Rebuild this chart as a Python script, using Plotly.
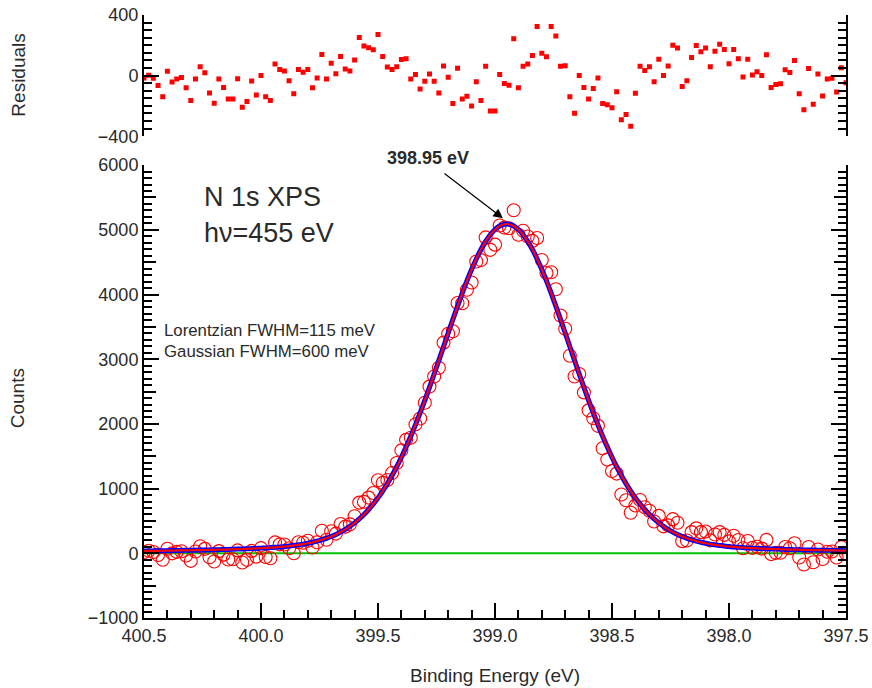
import numpy as np
import plotly.graph_objects as go

# Binding energy grid (eV): 151 points, 400.50 -> 397.50 in 0.02 eV steps
E_START, E_STEP, N_PTS = 400.5, 0.02, 151
energy = [round(E_START - E_STEP * i, 2) for i in range(N_PTS)]

counts = [20, 39, 20, -26, -99, 70, -1, 22, 32, -35, -117, 27, 108, 69, -62, -127, 34, -21, -95, -92,
          45, -142, -101, 37, -52, 80, -56, -76, 169, 138, 136, 78, 2, 171, 164, 195, 89, 172, 348, 210,
          341, 304, 454, 412, 448, 574, 784, 795, 861, 933, 1129, 1088, 1133, 1242, 1396, 1591, 1754, 1787, 1993, 2084,
          2327, 2577, 2733, 2867, 3256, 3395, 3432, 3870, 3865, 4073, 4187, 4510, 4532, 4883, 4691, 4771, 5066, 5035, 5024, 5302,
          4924, 4986, 4898, 4829, 4874, 4535, 4334, 4344, 4082, 3677, 3471, 3054, 2733, 2771, 2487, 2210, 2087, 1970, 1625, 1449,
          1272, 1232, 910, 821, 627, 740, 823, 711, 658, 492, 579, 417, 432, 528, 473, 188, 198, 328, 386, 327,
          337, 200, 291, 328, 285, 184, 271, 205, 79, 191, 84, 101, 73, 207, -12, 7, 9, 98, 78, 155,
          -64, -172, 98, -139, 60, -88, 24, 27, -64, 94, -6]

fit = [36, 37, 38, 39, 40, 41, 42, 44, 45, 46, 47, 49, 50, 51, 53, 55, 56, 58, 60, 63,
       65, 67, 70, 73, 76, 80, 83, 88, 93, 98, 105, 112, 121, 131, 142, 155, 170, 188, 209, 232,
       260, 291, 328, 369, 417, 471, 532, 600, 677, 762, 857, 962, 1077, 1202, 1338, 1485, 1642, 1809, 1986, 2172,
       2365, 2566, 2771, 2982, 3193, 3406, 3616, 3821, 4020, 4210, 4387, 4550, 4696, 4822, 4925, 5005, 5059, 5087, 5087, 5059,
       5005, 4925, 4822, 4696, 4550, 4387, 4210, 4020, 3821, 3616, 3406, 3193, 2982, 2771, 2566, 2365, 2172, 1986, 1809, 1642,
       1485, 1338, 1202, 1077, 962, 857, 762, 677, 600, 532, 471, 417, 369, 328, 291, 260, 232, 209, 188, 170,
       155, 142, 131, 121, 112, 105, 98, 93, 88, 83, 80, 76, 73, 70, 67, 65, 63, 60, 58, 56,
       55, 53, 51, 50, 49, 47, 46, 45, 44, 42, 41]

residuals = [-16, 2, -18, -65, -139, 29, -43, -22, -13, -81, -164, -22, 58, 18, -115, -182, -22, -79, -155, -155,
             -20, -209, -171, -36, -128, 0, -139, -164, 76, 40, 31, -34, -119, 40, 22, 40, -81, -16, 139, -22,
             81, 13, 126, 43, 31, 103, 252, 195, 184, 171, 272, 126, 56, 40, 58, 106, 112, -22, 7, -88,
             -38, 11, -38, -115, 63, -11, -184, 49, -155, -137, -200, -40, -164, 61, -234, -234, 7, -52, -63, 243,
             -81, 61, 76, 133, 324, 148, 124, 324, 261, 61, 65, -139, -249, 0, -79, -155, -85, -16, -184, -193,
             -213, -106, -292, -256, -335, -117, 61, 34, 58, -40, 108, 0, 63, 200, 182, -72, -34, 119, 198, 157,
             182, 58, 160, 207, 173, 79, 173, 112, -9, 108, 4, 25, 0, 137, -79, -58, -54, 38, 20, 99,
             -119, -225, 47, -189, 11, -135, -22, -18, -108, 52, -47]

baseline = [0, 0]
baseline_x = [400.5, 397.5]

x_ticks = [400.5, 400.0, 399.5, 399.0, 398.5, 398.0, 397.5]
x_ticktext = ["400.5", "400.0", "399.5", "399.0", "398.5", "398.0", "397.5"]
y_ticks = [-1000, 0, 1000, 2000, 3000, 4000, 5000, 6000]
res_ticks = [-400, 0, 400]

peak_label = "398.95 eV"
peak_pos = (398.966, 5178)

FONT = "Liberation Sans, Arial, Helvetica, sans-serif"
TXT = "#2a2a2a"

fig = go.Figure()

# residuals (top panel)
fig.add_trace(go.Scatter(x=energy, y=residuals, mode="markers", xaxis="x2", yaxis="y2",
                         marker=dict(symbol="square", size=5, color="#ff0000"), hoverinfo="skip"))
# baseline
fig.add_trace(go.Scatter(x=baseline_x, y=baseline, mode="lines",
                         line=dict(color="#00c000", width=2), hoverinfo="skip"))
# data
fig.add_trace(go.Scatter(x=energy, y=counts, mode="markers",
                         marker=dict(symbol="circle-open", size=13, color="#ff0000",
                                     line=dict(width=1.1, color="#ff0000")), hoverinfo="skip"))
# fit (blue envelope with red core)
fig.add_trace(go.Scatter(x=energy, y=fit, mode="lines", line=dict(color="#0000ff", width=5, shape="spline"),
                         hoverinfo="skip"))
fig.add_trace(go.Scatter(x=energy, y=fit, mode="lines", line=dict(color="#ff0000", width=2.2, shape="spline"),
                         hoverinfo="skip"))
# medium ticks on counts axis (every 500)
fig.add_trace(go.Scatter(x=[None], y=[None], xaxis="x", yaxis="y3", showlegend=False, hoverinfo="skip"))

axis_common = dict(showgrid=False, zeroline=False, showline=True, linecolor="black", linewidth=2,
                   ticks="inside", tickcolor="black", tickwidth=2, automargin=False,
                   tickfont=dict(family=FONT, size=18, color=TXT))

fig.update_layout(
    width=872, height=688,
    margin=dict(l=144, r=26, t=15, b=70),
    plot_bgcolor="white", paper_bgcolor="white",
    showlegend=False,
    xaxis=dict(**axis_common, range=[400.5, 397.5], tickvals=x_ticks, ticktext=x_ticktext,
               ticklen=15, mirror=False, anchor="y",
               minor=dict(dtick=0.1, ticklen=8, tickwidth=2, tickcolor="black", ticks="inside", showgrid=False)),
    yaxis=dict(**axis_common, domain=[0, 0.751], range=[-1000, 6000], tickvals=y_ticks,
               ticklen=15, mirror="ticks", anchor="x",
               minor=dict(dtick=100, ticklen=8, tickwidth=2, tickcolor="black", ticks="inside", showgrid=False)),
    yaxis3=dict(overlaying="y", range=[-1000, 6000], tickvals=list(range(-500, 6000, 1000)),
                ticks="inside", ticklen=12, tickwidth=2, tickcolor="black", showticklabels=False,
                showgrid=False, zeroline=False, showline=False, mirror="ticks", anchor="x", side="left",
                automargin=False),
    xaxis2=dict(range=[400.5, 397.5], anchor="y2", visible=False, matches="x", automargin=False),
    yaxis2=dict(**axis_common, domain=[0.799, 1], range=[-400, 400], tickvals=res_ticks,
                ticklen=15, mirror="ticks", anchor="x2",
                minor=dict(dtick=50, ticklen=8, tickwidth=2, tickcolor="black", ticks="inside", showgrid=False)),
)

ann = []
ann.append(dict(text="Residuals", xref="paper", yref="paper", x=-0.179, y=0.9, textangle=-90,
                showarrow=False, font=dict(family=FONT, size=19, color=TXT), xanchor="center", yanchor="middle"))
ann.append(dict(text="Counts", xref="paper", yref="paper", x=-0.179, y=0.365, textangle=-90,
                showarrow=False, font=dict(family=FONT, size=19, color=TXT), xanchor="center", yanchor="middle"))
ann.append(dict(text="Binding Energy (eV)", xref="paper", yref="paper", x=0.5, y=-0.096,
                showarrow=False, font=dict(family=FONT, size=19, color=TXT), xanchor="center", yanchor="middle"))
ann.append(dict(text="N 1s XPS", xref="paper", yref="paper", x=0.0826, y=0.698,
                showarrow=False, font=dict(family=FONT, size=27, color=TXT), xanchor="left", yanchor="middle"))
ann.append(dict(text="hν=455 eV", xref="paper", yref="paper", x=0.0826, y=0.638,
                showarrow=False, font=dict(family=FONT, size=27, color=TXT), xanchor="left", yanchor="middle"))
ann.append(dict(text="Lorentzian FWHM=115 meV", xref="paper", yref="paper", x=0.0256, y=0.476,
                showarrow=False, font=dict(family=FONT, size=16.8, color=TXT), xanchor="left", yanchor="middle"))
ann.append(dict(text="Gaussian FWHM=600 meV", xref="paper", yref="paper", x=0.0256, y=0.442,
                showarrow=False, font=dict(family=FONT, size=16.8, color=TXT), xanchor="left", yanchor="middle"))
ann.append(dict(text="<b>%s</b>" % peak_label, xref="paper", yref="paper", x=0.4046, y=0.763,
                showarrow=False, font=dict(family=FONT, size=18, color=TXT), xanchor="center", yanchor="middle"))
ann.append(dict(text="", x=peak_pos[0], y=peak_pos[1], xref="x", yref="y", ax=-60, ay=-46,
                showarrow=True, arrowhead=2, arrowsize=1.6, arrowwidth=1.2, arrowcolor="black"))
fig.update_layout(annotations=ann)

fig.write_html("out.html")
